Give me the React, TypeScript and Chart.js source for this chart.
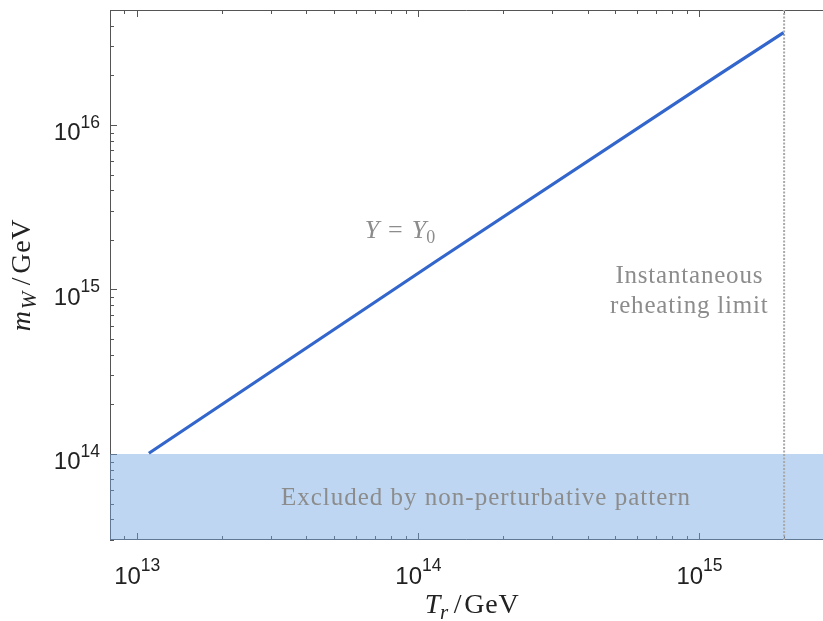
import React, { useEffect, useRef } from 'react';
import { Chart, registerables } from 'chart.js';

Chart.register(...registerables);

// ---- data ----
const curveT: number[] = [1.1e13, 1.16e14, 1.18e15, 1.99e15];
const curveM: number[] = [1.01e14, 1.49e15, 2.04e16, 3.64e16];
const limitT = 2e15;
const boundM = 1e14;
const xRange: number[] = [8e12, 2.75e15];
const yRange: number[] = [3e13, 5e16];
const xTickExps: number[] = [13, 14, 15];
const yTickExps: number[] = [14, 15, 16];
const labelY0 = { t: 8.6e13, m: 2.05e15 };
const labelLimit = { t: 9.2e14, m: 1.09e15 };
const labelExcl = { t: 1.74e14, m: 4.9e13 };

type Run = { text: string; font: string; dy?: number; gap?: number };

function runsWidth(ctx: CanvasRenderingContext2D, runs: Run[]) {
  let w = 0;
  for (const r of runs) {
    ctx.font = r.font;
    w += ctx.measureText(r.text).width + (r.gap || 0);
  }
  return w;
}

function drawRuns(ctx: CanvasRenderingContext2D, runs: Run[], x: number, y: number, align: 'left' | 'center' | 'right') {
  const w = runsWidth(ctx, runs);
  let cx = align === 'left' ? x : align === 'center' ? x - w / 2 : x - w;
  ctx.textAlign = 'left';
  ctx.textBaseline = 'alphabetic';
  for (const r of runs) {
    ctx.font = r.font;
    ctx.fillText(r.text, cx, y + (r.dy || 0));
    cx += ctx.measureText(r.text).width + (r.gap || 0);
  }
}

const SANS = '"Liberation Sans", Arial, sans-serif';
const SERIF = '"Liberation Serif", "Times New Roman", serif';

function powRuns(exp: number): Run[] {
  return [
    { text: '10', font: `24px ${SANS}` },
    { text: String(exp), font: `17.5px ${SANS}`, dy: -12.5 },
  ];
}

const framePlugin = {
  id: 'frame',
  beforeDatasetsDraw(chart: any) {
    const { ctx, chartArea: a, scales } = chart;
    const xs = scales.x;
    const ys = scales.y;
    ctx.save();
    ctx.strokeStyle = '#555555';
    ctx.lineWidth = 1;
    ctx.beginPath();
    ctx.moveTo(a.left + 0.5, a.top + 0.5);
    ctx.lineTo(a.left + 0.5, a.bottom - 0.5);
    ctx.lineTo(a.right, a.bottom - 0.5);
    ctx.moveTo(a.left + 0.5, a.top + 0.5);
    ctx.lineTo(a.right, a.top + 0.5);
    ctx.stroke();
    ctx.beginPath();
    for (let e = 12; e <= 16; e++) {
      for (let k = 1; k <= 9; k++) {
        const v = k * Math.pow(10, e);
        if (v < xRange[0] || v > xRange[1]) continue;
        const px = Math.round(xs.getPixelForValue(v)) + 0.5;
        const len = k === 1 ? 7 : 4;
        ctx.moveTo(px, a.bottom);
        ctx.lineTo(px, a.bottom - len);
        ctx.moveTo(px, a.top);
        ctx.lineTo(px, a.top + len);
      }
    }
    for (let e = 13; e <= 17; e++) {
      for (let k = 1; k <= 9; k++) {
        const v = k * Math.pow(10, e);
        if (v < yRange[0] || v > yRange[1]) continue;
        const py = Math.round(ys.getPixelForValue(v)) + 0.5;
        const len = k === 1 ? 7 : 4;
        ctx.moveTo(a.left, py);
        ctx.lineTo(a.left + len, py);
      }
    }
    ctx.stroke();
    ctx.restore();
  },
  afterDatasetsDraw(chart: any) {
    const { ctx, chartArea: a, scales } = chart;
    const xs = scales.x;
    const ys = scales.y;
    ctx.save();
    // tick labels
    ctx.fillStyle = '#222222';
    for (const e of xTickExps) {
      const px = xs.getPixelForValue(Math.pow(10, e));
      drawRuns(ctx, powRuns(e), px, a.bottom + 43.5, 'center');
    }
    for (const e of yTickExps) {
      const py = ys.getPixelForValue(Math.pow(10, e));
      drawRuns(ctx, powRuns(e), 100, py + 15.3, 'right');
    }
    // axis titles
    ctx.fillStyle = '#222222';
    (ctx as any).letterSpacing = '0.7px';
    drawRuns(
      ctx,
      [
        { text: 'T', font: `italic 28px ${SERIF}`, gap: -1 },
        { text: 'r', font: `italic 21px ${SERIF}`, dy: 6, gap: 5 },
        { text: '/', font: `28px ${SERIF}`, gap: 2 },
        { text: 'GeV', font: `28px ${SERIF}` },
      ],
      472,
      613,
      'center'
    );
    ctx.save();
    ctx.translate(30, (a.top + a.bottom) / 2);
    ctx.rotate(-Math.PI / 2);
    drawRuns(
      ctx,
      [
        { text: 'm', font: `italic 28px ${SERIF}`, gap: 1 },
        { text: 'W', font: `italic 21px ${SERIF}`, dy: 6, gap: 6 },
        { text: '/', font: `28px ${SERIF}`, gap: 3 },
        { text: 'GeV', font: `28px ${SERIF}` },
      ],
      0,
      0,
      'center'
    );
    ctx.restore();
    // annotations
    ctx.fillStyle = '#8c8c8c';
    (ctx as any).letterSpacing = '0px';
    drawRuns(
      ctx,
      [
        { text: 'Y', font: `italic 26px ${SERIF}`, gap: 9 },
        { text: '=', font: `26px ${SERIF}`, gap: 9 },
        { text: 'Y', font: `italic 26px ${SERIF}`, gap: 0 },
        { text: '0', font: `18px ${SERIF}`, dy: 5 },
      ],
      xs.getPixelForValue(labelY0.t),
      ys.getPixelForValue(labelY0.m),
      'center'
    );
    ctx.textAlign = 'center';
    ctx.textBaseline = 'alphabetic';
    ctx.font = `25px ${SERIF}`;
    (ctx as any).letterSpacing = '0.8px';
    const lx = xs.getPixelForValue(labelLimit.t);
    const ly = ys.getPixelForValue(labelLimit.m);
    ctx.fillText('Instantaneous', lx, ly);
    ctx.fillText('reheating limit', lx, ly + 30);
    ctx.font = `25px ${SERIF}`;
    (ctx as any).letterSpacing = '1px';
    ctx.fillText('Excluded by non-perturbative pattern', xs.getPixelForValue(labelExcl.t), ys.getPixelForValue(labelExcl.m));
    (ctx as any).letterSpacing = '0px';
    ctx.restore();
  },
};

export default function App() {
  const ref = useRef<HTMLCanvasElement | null>(null);
  useEffect(() => {
    document.body.style.margin = '0';
    const canvas = ref.current;
    if (!canvas) return;
    const chart = new Chart(canvas, {
      type: 'line',
      data: {
        datasets: [
          {
            label: 'Y = Y0',
            data: curveT.map((t, i) => ({ x: t, y: curveM[i] })),
            borderColor: '#3366cc',
            borderWidth: 3.2,
            pointRadius: 0,
            fill: false,
            tension: 0,
            order: 1,
          },
          {
            label: 'limit',
            data: [
              { x: limitT, y: yRange[0] },
              { x: limitT, y: yRange[1] },
            ],
            borderColor: '#a9a9a9',
            borderWidth: 2,
            borderDash: [2, 1.5],
            pointRadius: 0,
            fill: false,
            order: 2,
          },
          {
            label: 'excluded',
            data: [
              { x: xRange[0], y: boundM },
              { x: xRange[1], y: boundM },
            ],
            borderColor: 'rgba(0,0,0,0)',
            borderWidth: 0,
            backgroundColor: 'rgba(110,165,225,0.45)',
            pointRadius: 0,
            fill: 'start',
            order: 3,
            clip: 2,
          },
        ],
      },
      options: {
        animation: false,
        responsive: false,
        maintainAspectRatio: false,
        layout: { padding: { left: 110, top: 10, right: 0, bottom: 81 } },
        plugins: { legend: { display: false }, tooltip: { enabled: false } },
        scales: {
          x: { type: 'logarithmic', min: xRange[0], max: xRange[1], display: false },
          y: { type: 'logarithmic', min: yRange[0], max: yRange[1], display: false },
        },
      },
      plugins: [framePlugin],
    } as any);
    return () => chart.destroy();
  }, []);
  return (
    <div style={{ width: 823, height: 621 }}>
      <canvas ref={ref} width={823} height={621} style={{ display: 'block' }} />
    </div>
  );
}
